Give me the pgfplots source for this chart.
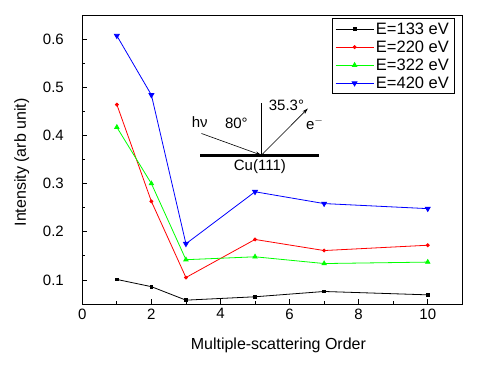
\documentclass[border=0pt]{standalone}
\usepackage{fontspec}
\setmainfont{Liberation Sans}
\usepackage{pgfplots}
\pgfplotsset{compat=1.18}
\usetikzlibrary{arrows.meta}
\begin{document}
\begin{tikzpicture}
\useasboundingbox (-82.3pt,-71pt) rectangle (417.7pt,304pt);
\begin{axis}[
  at={(0,0)}, anchor=south west, scale only axis, width=380pt, height=289pt,
  xmin=0, xmax=11, ymin=0.05, ymax=0.65,
  xtick={0,2,4,6,8,10}, minor xtick={1,3,5,7,9,11},
  ytick={0.1,0.2,0.3,0.4,0.5,0.6}, minor ytick={0.05,0.15,0.25,0.35,0.45,0.55,0.65},
  tick align=inside, xtick pos=bottom, ytick pos=left,
  major tick length=5pt, minor tick length=3pt,
  tick style={black, line width=0.8pt},
  axis line style={line width=1pt},
  /pgf/number format/assume math mode=true,
  ticklabel style={font=\fontsize{15}{17}\selectfont},
  yticklabel style={/pgf/number format/fixed, /pgf/number format/precision=1, xshift=-15pt},
  xticklabel style={yshift=-1pt},
  xlabel={Multiple-scattering Order}, ylabel={Intensity (arb unit)},
  label style={font=\fontsize{16}{18}\selectfont},
  xlabel style={at={(axis description cs:0.516,-0.142)}, anchor=center},
  ylabel style={at={(axis description cs:-0.1595,0.49)}, anchor=center, rotate=0},
  legend style={at={(axis description cs:0.979,0.989)}, anchor=north east,
    font=\fontsize{16.5}{18}\selectfont, draw=black, line width=0.8pt,
    inner xsep=3pt, inner ysep=2pt, row sep=1pt, cells={anchor=west}},
  legend image code/.code={\draw[mark repeat=2,mark phase=2,#1] plot coordinates {(0pt,0pt) (19pt,0pt) (38pt,0pt)};},
  every axis plot/.append style={line width=0.8pt},
]
\addplot[black, mark=square*, mark size=1.4pt] coordinates {(1,0.101) (2,0.086) (3,0.058) (5,0.065) (7,0.076) (10,0.069)};
\addlegendentry{E=133 eV}
\addplot[red, mark=*, mark size=1.5pt] coordinates {(1,0.464) (2,0.263) (3,0.105) (5,0.184) (7,0.161) (10,0.172)};
\addlegendentry{E=220 eV}
\addplot[green, mark=triangle*, mark size=2.5pt] coordinates {(1,0.417) (2,0.300) (3,0.142) (5,0.148) (7,0.134) (10,0.137)};
\addlegendentry{E=322 eV}
\addplot[blue, mark=triangle*, mark size=2.8pt, mark options={rotate=180}] coordinates {(1,0.607) (2,0.484) (3,0.175) (5,0.283) (7,0.2585) (10,0.248)};
\addlegendentry{E=420 eV}
% inset schematic
\draw[line width=3.5pt] (axis cs:3.42,0.358) -- (axis cs:6.85,0.358);
\draw[line width=0.8pt] (axis cs:5.185,0.467) -- (axis cs:5.185,0.359);
\draw[line width=0.6pt, -{Stealth[length=6pt,width=3.5pt]}] (axis cs:3.45,0.404) -- (axis cs:5.185,0.359);
\draw[line width=0.6pt, -{Stealth[length=6pt,width=3.5pt]}] (axis cs:5.185,0.359) -- (axis cs:6.53,0.456);
\node[font=\fontsize{15}{17}\selectfont] at (axis cs:3.40,0.428) {hν};
\node[font=\fontsize{15}{17}\selectfont] at (axis cs:4.46,0.425) {80°};
\node[font=\fontsize{15}{17}\selectfont] at (axis cs:5.91,0.463) {35.3°};
\node[font=\fontsize{15}{17}\selectfont] at (axis cs:6.73,0.425) {e$^{-}$};
\node[font=\fontsize{15}{17}\selectfont] at (axis cs:5.14,0.335) {Cu(111)};
\end{axis}
\end{tikzpicture}
\end{document}
